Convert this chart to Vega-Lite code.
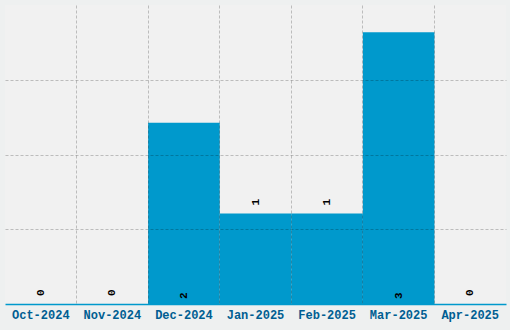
{
  "$schema": "https://vega.github.io/schema/vega-lite/v6.json",
  "width": 501,
  "height": 299,
  "autosize": {"type": "none"},
  "padding": {"left": 5, "top": 5, "right": 4, "bottom": 26},
  "background": "#eef0f0",
  "view": {"fill": "#f1f1f1", "stroke": null},
  "data": {"values": [
    {"month": "Oct-2024", "count": 0},
    {"month": "Nov-2024", "count": 0},
    {"month": "Dec-2024", "count": 2},
    {"month": "Jan-2025", "count": 1},
    {"month": "Feb-2025", "count": 1},
    {"month": "Mar-2025", "count": 3},
    {"month": "Apr-2025", "count": 0}
  ]},
  "encoding": {
    "x": {"field": "month", "type": "nominal", "sort": null,
      "scale": {"paddingInner": 0, "paddingOuter": 0},
      "axis": {"title": null, "labelAngle": 0, "ticks": false, "bandPosition": 0,
        "labelFont": "Liberation Mono", "labelFontWeight": "bold", "labelFontSize": 12,
        "labelColor": "#005e92", "labelPadding": 5,
        "domainColor": "#0099cc", "domainWidth": 1.5,
        "grid": true, "gridColor": "#000000", "gridDash": [3, 2],
        "gridOpacity": {"condition": {"test": "datum.value === 'Oct-2024'", "value": 0}, "value": 0.22},
        "zindex": 1}}
  },
  "layer": [
    {
      "mark": {"type": "bar", "color": "#0099cc"},
      "encoding": {
        "y": {"field": "count", "type": "quantitative",
          "scale": {"domain": [0, 3.3], "nice": false, "zero": true},
          "axis": {"title": null, "labels": false, "ticks": false, "domain": false,
            "values": [0.825, 1.65, 2.475],
            "grid": true, "gridColor": "#000000", "gridOpacity": 0.22, "gridDash": [3, 2], "zindex": 1}}
      }
    },
    {
      "transform": [{"filter": "datum.count <= 1"}],
      "mark": {"type": "text", "angle": 270, "align": "left", "baseline": "middle", "dx": 8,
        "font": "Liberation Mono", "fontWeight": "bold", "fontSize": 11, "color": "#000000"},
      "encoding": {
        "y": {"field": "count", "type": "quantitative"},
        "text": {"field": "count", "type": "quantitative"}
      }
    },
    {
      "transform": [{"filter": "datum.count >= 2"}],
      "mark": {"type": "text", "angle": 270, "align": "left", "baseline": "middle", "dx": 5,
        "font": "Liberation Mono", "fontWeight": "bold", "fontSize": 11, "color": "#000000"},
      "encoding": {
        "y": {"datum": 0, "type": "quantitative"},
        "text": {"field": "count", "type": "quantitative"}
      }
    }
  ]
}
